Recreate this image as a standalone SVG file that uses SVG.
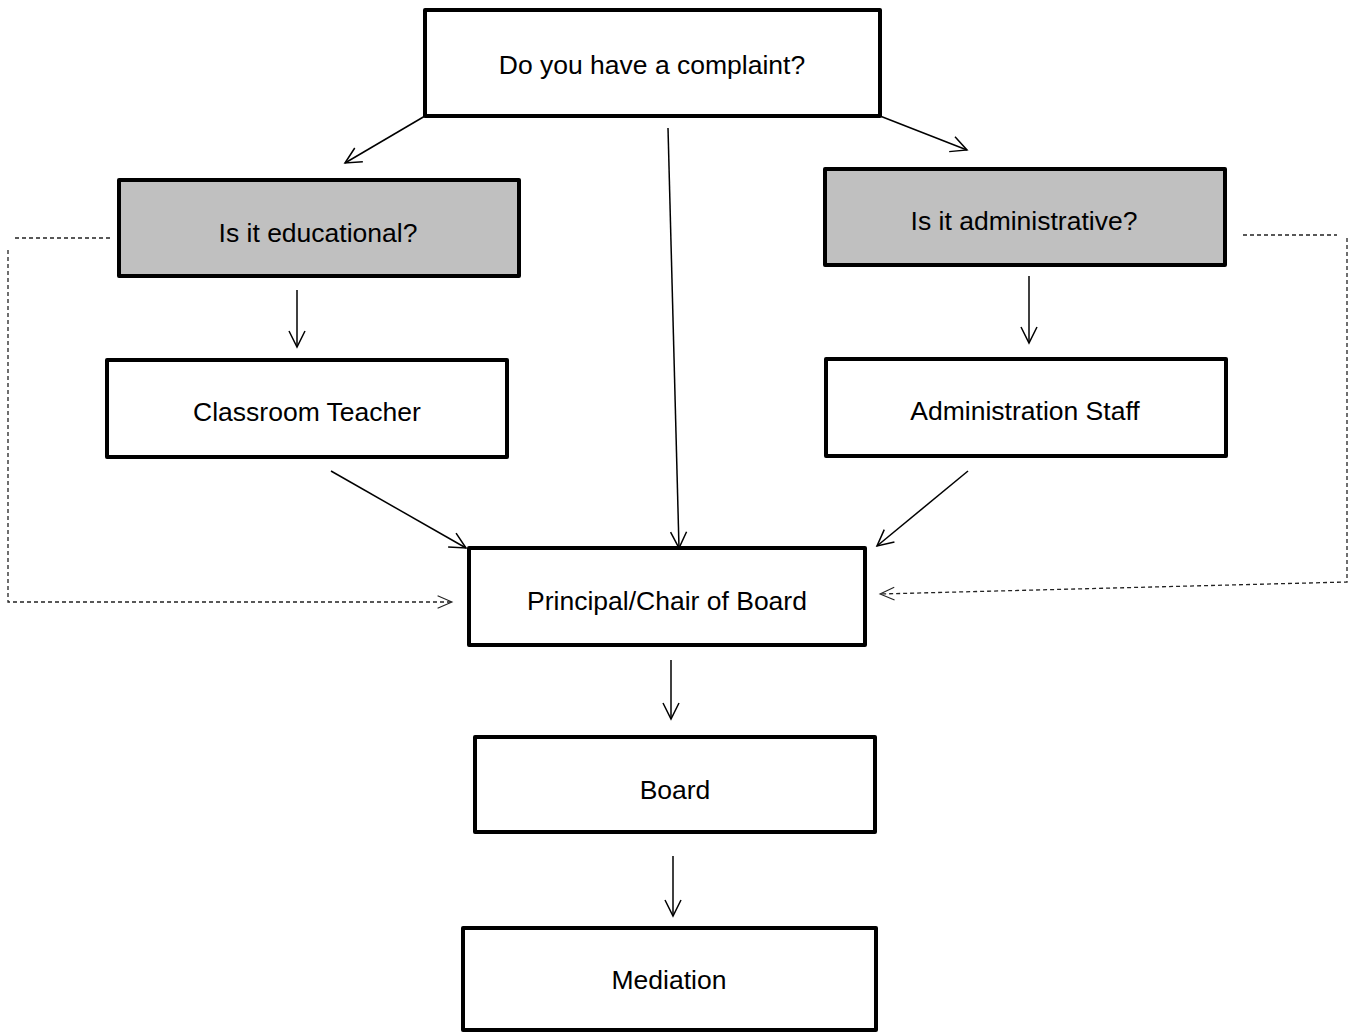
<svg xmlns="http://www.w3.org/2000/svg" width="1356" height="1032" viewBox="0 0 1356 1032">
<style>
.box{fill:#fff;stroke:#000;stroke-width:4;stroke-linejoin:round}
.gray{fill:#c0c0c0}
.t{font-family:"Liberation Sans",Arial,sans-serif;font-size:26.5px;fill:#000;text-anchor:middle;dominant-baseline:central}
.c{fill:none;stroke:#000;stroke-width:1.5}
.d{fill:none;stroke:#222;stroke-width:1.3;stroke-dasharray:4,3}
</style>
<defs>
<marker id="a" viewBox="0 0 20 20" refX="18" refY="10" markerWidth="20" markerHeight="20" markerUnits="userSpaceOnUse" orient="auto">
<path d="M2,2 L18,10 L2,18" fill="none" stroke="#000" stroke-width="1.5"/>
</marker>
<marker id="ad" viewBox="0 0 20 20" refX="18" refY="10" markerWidth="18" markerHeight="18" markerUnits="userSpaceOnUse" orient="auto">
<path d="M2,3 L18,10 L2,17" fill="none" stroke="#222" stroke-width="1.2"/>
</marker>
</defs>
<g id="connectors">
<line class="c" x1="425" y1="116" x2="345" y2="163" marker-end="url(#a)"/>
<line class="c" x1="668" y1="128" x2="679" y2="548" marker-end="url(#a)"/>
<line class="c" x1="880" y1="116" x2="967" y2="150" marker-end="url(#a)"/>
<line class="c" x1="297" y1="290" x2="297" y2="347" marker-end="url(#a)"/>
<line class="c" x1="1029" y1="276" x2="1029" y2="343" marker-end="url(#a)"/>
<line class="c" x1="331" y1="471" x2="466" y2="548" marker-end="url(#a)"/>
<line class="c" x1="968" y1="471" x2="877" y2="546" marker-end="url(#a)"/>
<line class="c" x1="671" y1="660" x2="671" y2="719" marker-end="url(#a)"/>
<line class="c" x1="673" y1="856" x2="673" y2="916" marker-end="url(#a)"/>
<polyline class="d" points="110,238 14,238"/>
<polyline class="d" points="8,250 8,602 452,602" marker-end="url(#ad)"/>
<polyline class="d" points="1243,235 1337,235"/>
<polyline class="d" points="1347,238 1347,582 880,594" marker-end="url(#ad)"/>
</g>
<g id="n-complaint"><rect class="box" x="425" y="10" width="455" height="106"/><text class="t" x="652" y="65">Do you have a complaint?</text></g>
<g id="n-educational"><rect class="box gray" x="119" y="180" width="400" height="96"/><text class="t" x="318" y="233">Is it educational?</text></g>
<g id="n-administrative"><rect class="box gray" x="825" y="169" width="400" height="96"/><text class="t" x="1024" y="221">Is it administrative?</text></g>
<g id="n-teacher"><rect class="box" x="107" y="360" width="400" height="97"/><text class="t" x="307" y="412">Classroom Teacher</text></g>
<g id="n-staff"><rect class="box" x="826" y="359" width="400" height="97"/><text class="t" x="1025" y="411">Administration Staff</text></g>
<g id="n-principal"><rect class="box" x="469" y="548" width="396" height="97"/><text class="t" x="667" y="601">Principal/Chair of Board</text></g>
<g id="n-board"><rect class="box" x="475" y="737" width="400" height="95"/><text class="t" x="675" y="790">Board</text></g>
<g id="n-mediation"><rect class="box" x="463" y="928" width="413" height="102"/><text class="t" x="669" y="980">Mediation</text></g>
</svg>
